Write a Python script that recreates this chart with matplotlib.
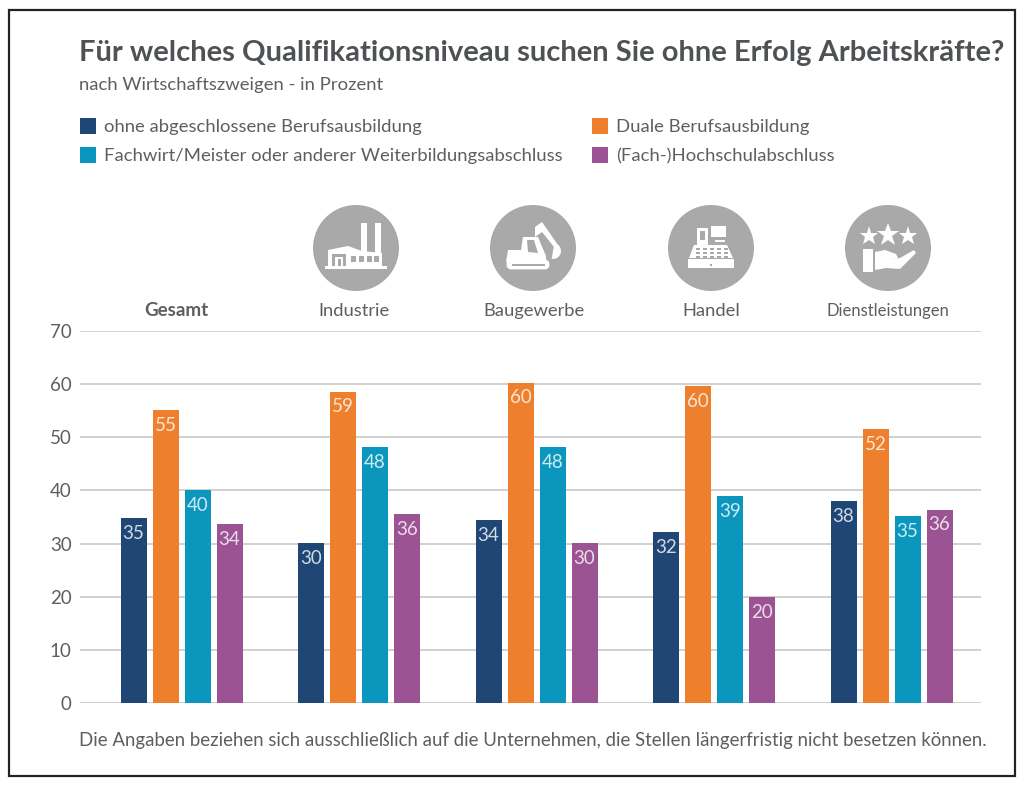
import matplotlib
matplotlib.use('Agg')
import matplotlib.pyplot as plt
import numpy as np
from matplotlib.patches import Circle, FancyBboxPatch, Polygon, Rectangle, Wedge

plt.rcParams['font.family'] = ['Lato', 'DejaVu Sans']

W, H = 1024, 786

groups = ['Gesamt', 'Industrie', 'Baugewerbe', 'Handel', 'Dienstleistungen']
ohne = [34.8, 30.1, 34.4, 32.1, 38.0]
dual = [55.1, 58.6, 60.3, 59.6, 51.6]
meister = [40.0, 48.2, 48.2, 39.0, 35.2]
hochschule = [33.7, 35.6, 30.1, 20.0, 36.4]
series_names = ['ohne abgeschlossene Berufsausbildung', 'Duale Berufsausbildung',
                'Fachwirt/Meister oder anderer Weiterbildungsabschluss', '(Fach-)Hochschulabschluss']
colors = ['#1f4674', '#ee7f2d', '#0b97bd', '#9b5394']

text_col = '#5c5f61'
grey = '#a9a9a9'

fig = plt.figure(figsize=(W / 100, H / 100), dpi=100, facecolor='white')

# chart axes, placed in pixels
left, right, top, bottom = 80, 981, 331, 703
ax = fig.add_axes([left / W, 1 - bottom / H, (right - left) / W, (bottom - top) / H])
ax.set_xlim((left - 181.5) / 177.5, (right - 181.5) / 177.5)
ax.set_ylim(0, 70)
ax.set_yticks(range(0, 71, 10))
ax.tick_params(axis='y', length=0, labelsize=13.5, labelcolor=text_col, pad=6)
ax.tick_params(axis='x', length=0, labelbottom=False)
ax.yaxis.grid(True, color='#c4c4c4', lw=1.1)
ax.set_axisbelow(True)
for s in ax.spines.values():
    s.set_visible(False)

bw = 26 / 177.5
step = 32 / 177.5
x = np.arange(len(groups))
for i, vals in enumerate([ohne, dual, meister, hochschule]):
    pos = x + (i - 1.5) * step
    ax.bar(pos, vals, width=bw, color=colors[i], zorder=3)
    for p, v in zip(pos, vals):
        ax.text(p, v - 2.9, f'{v:.0f}', color='white', alpha=0.8, fontsize=13.5,
                ha='center', va='center', zorder=4)

# overlay in pixel coordinates for frame, header and icons
ov = fig.add_axes([0, 0, 1, 1], facecolor='none')
ov.set_xlim(0, W)
ov.set_ylim(H, 0)
ov.axis('off')
ov.add_patch(Rectangle((9, 10), 1006, 766, fill=False, ec='#222222', lw=1.6))

ov.text(79, 61, 'Für welches Qualifikationsniveau suchen Sie ohne Erfolg Arbeitskräfte?',
        fontsize=21, fontweight='bold', color='#4f5254', va='baseline', ha='left')
ov.text(79, 90, 'nach Wirtschaftszweigen - in Prozent', fontsize=13.3, color=text_col, va='baseline')

legend_pos = [(80, 126), (592, 126), (80, 155), (592, 155)]
for (lx, ly), name, c in zip(legend_pos, series_names, colors):
    ov.add_patch(Rectangle((lx, ly - 8), 16, 16, color=c, lw=0))
    ov.text(lx + 24, ly + 6, name, fontsize=13.3, color=text_col, va='baseline')

label_x = [176, 354, 534, 711, 888]
label_size = [13.5, 13.2, 13.2, 13.2, 12]
for i, (g, lx, fs) in enumerate(zip(groups, label_x, label_size)):
    ov.text(lx, 316, g, fontsize=fs, color=text_col, ha='center', va='baseline',
            fontweight='bold' if i == 0 else 'normal')

ov.text(79, 746, 'Die Angaben beziehen sich ausschließlich auf die Unternehmen, '
        'die Stellen längerfristig nicht besetzen können.',
        fontsize=13.45, color=text_col, va='baseline')


def rect(cx, cy, x0, y0, x1, y1, c='white'):
    ov.add_patch(Rectangle((cx + x0, cy + y0), x1 - x0, y1 - y0, color=c, lw=0))


def poly(cx, cy, pts, c='white'):
    ov.add_patch(Polygon([(cx + a, cy + b) for a, b in pts], closed=True, color=c, lw=0))


def factory(cx, cy):
    rect(cx, cy, -31, 18, 31, 21)
    rect(cx, cy, 5, -25, 11, 8)
    rect(cx, cy, 19, -25, 25, 8)
    poly(cx, cy, [(-28, 18), (-28, 2), (-8, -2), (6, 3), (26, 5), (26, 18)])
    rect(cx, cy, -24, 6, -10, 18, grey)
    rect(cx, cy, -21, 9, -13, 18, 'white')
    rect(cx, cy, -18.5, 11, -15.5, 18, grey)
    for wx in (-5, 3, 11, 18):
        rect(cx, cy, wx, 8, wx + 5, 14, grey)


def excavator(cx, cy):
    poly(cx, cy, [(-27, 14), (-25, 2), (-12, 2), (-10, -11), (5, -11), (13, 8), (13, 14)])
    poly(cx, cy, [(2, -11), (2, -21), (9, -26), (25, -3), (21, -1), (9, -16)])
    ov.add_patch(Wedge((cx + 20, cy + 3), 8, -80, 100, color='white', lw=0))
    ov.add_patch(FancyBboxPatch((cx - 25, cy + 13), 40, 7, boxstyle='round,pad=0,rounding_size=3',
                                fc='white', ec='white', lw=2))
    rect(cx, cy, -21, 15.5, 12, 18, grey)
    poly(cx, cy, [(-6, -8), (1, -8), (5, 5), (-5, 4)], grey)


def till(cx, cy):
    poly(cx, cy, [(-17, -3), (16, -3), (22, 10), (-22, 10)])
    rect(cx, cy, -23, 11, 23, 20)
    rect(cx, cy, -1, 16, 1, 18, grey)
    rect(cx, cy, -14, -20, -3, -3)
    rect(cx, cy, -11, -17, -6, -8, grey)
    rect(cx, cy, 0, -22, 15, -11)
    rect(cx, cy, 4, -8, 14, -6)
    for row in (0, 4, 8):
        for kx in (-15, -8, -1, 6, 13):
            rect(cx, cy, kx, row, kx + 4, row + 1.6, grey)


def service(cx, cy):
    ov.plot([cx - 19, cx + 20], [cy - 12, cy - 12], ls='none', marker='*', ms=14, color='white', mew=0)
    ov.plot([cx], [cy - 13], ls='none', marker='*', ms=17, color='white', mew=0)
    rect(cx, cy, -25, 1, -15, 24)
    poly(cx, cy, [(-13, 4), (-3, 2), (8, 6), (10, 10), (2, 11), (12, 10), (26, 2), (28, 5),
                  (12, 21), (-2, 20), (-13, 22)])


icon_x = [356, 533, 711, 888]
for ix, draw in zip(icon_x, [factory, excavator, till, service]):
    ov.add_patch(Circle((ix, 248), 43, color=grey, lw=0))
    draw(ix, 248)

fig.savefig('out.png', dpi=100)
